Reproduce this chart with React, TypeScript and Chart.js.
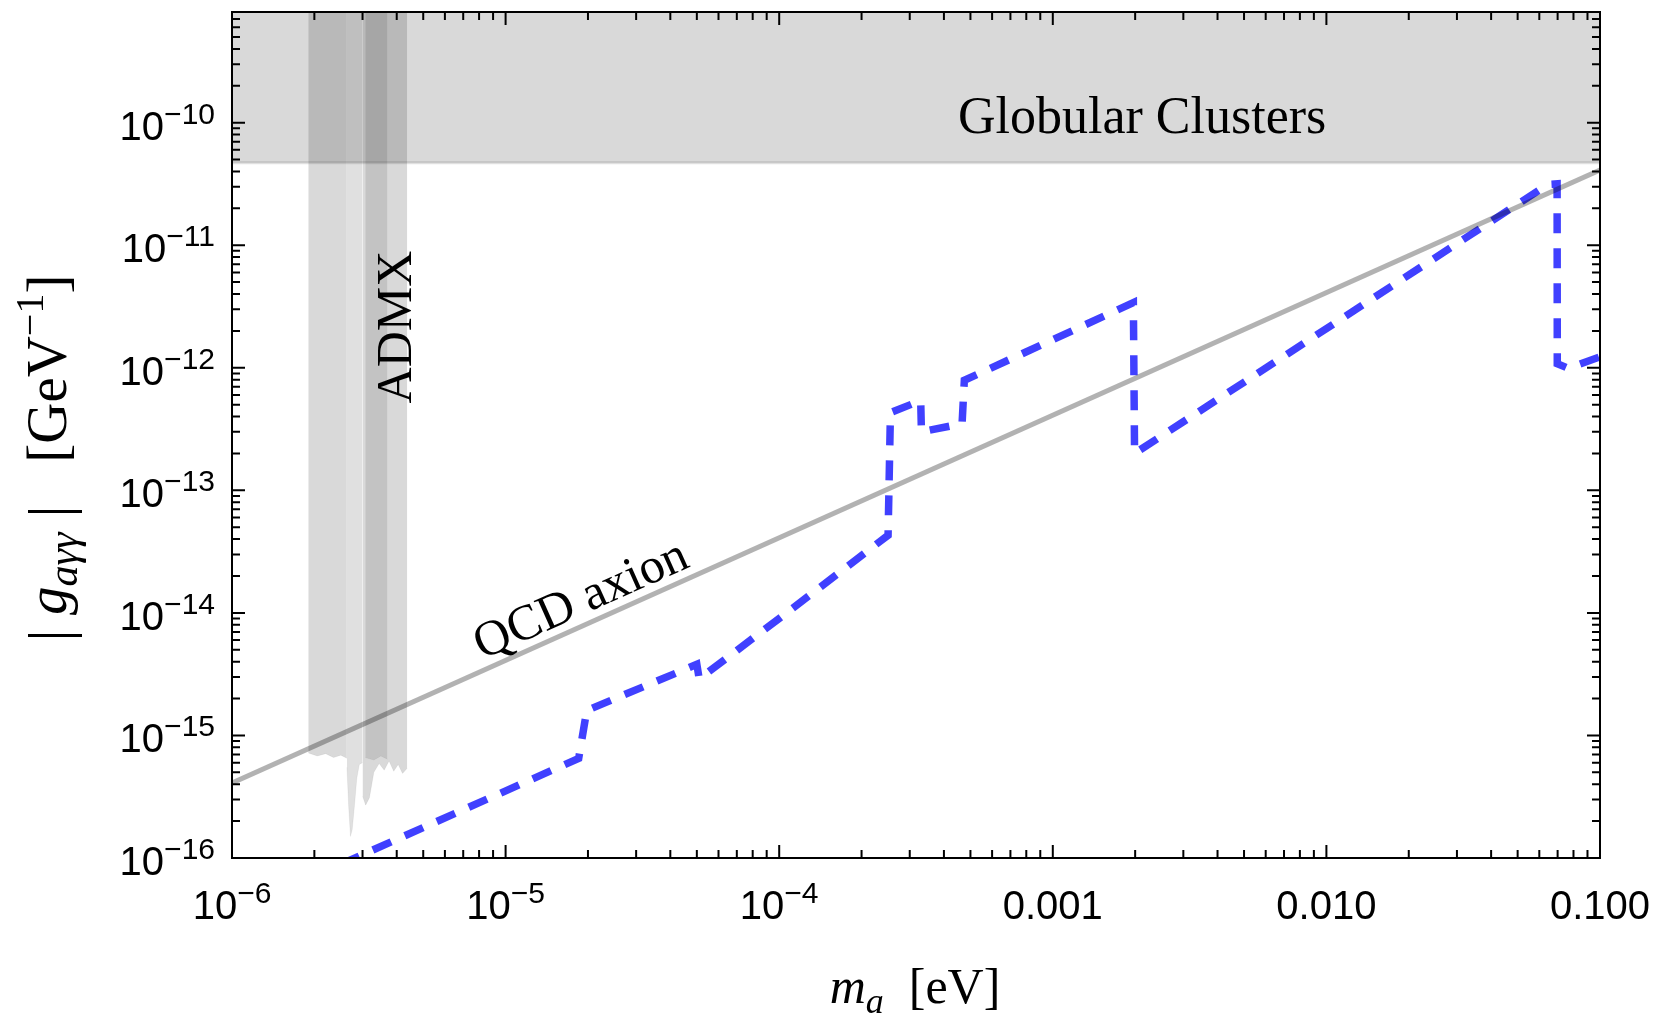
import { useEffect, useRef } from "react";
import { Chart, registerables } from "chart.js";

Chart.register(...registerables);

// ---------- axis ranges & ticks ----------
const X_MIN = 1e-6;
const X_MAX = 0.1;
const Y_MIN = 1e-16;
const Y_MAX = 8e-10;

const xTickValues = [1e-6, 1e-5, 1e-4, 1e-3, 1e-2, 1e-1];
const xTickBase = ["10", "10", "10", "0.001", "0.010", "0.100"];
const xTickExp = ["−6", "−5", "−4", "", "", ""];

const yTickValues = [1e-16, 1e-15, 1e-14, 1e-13, 1e-12, 1e-11, 1e-10];
const yTickBase = ["10", "10", "10", "10", "10", "10", "10"];
const yTickExp = ["−16", "−15", "−14", "−13", "−12", "−11", "−10"];

// ---------- data ----------
const qcdMass = [1e-6, 1e-1];
const qcdCoupling = [4.1e-16, 4.1e-11];

const gcMass = [1e-6, 1e-1];
const gcCoupling = [4.7e-11, 4.7e-11];

const admxAMass = [1.9e-6, 2.05e-6, 2.2e-6, 2.35e-6, 2.5e-6, 2.63e-6];
const admxACoupling = [7.2e-16, 6.8e-16, 7.1e-16, 6.6e-16, 6.9e-16, 6.5e-16];

const admxBMass = [2.63e-6, 2.67e-6, 2.71e-6, 2.75e-6, 2.8e-6, 2.86e-6, 2.92e-6, 3.0e-6];
const admxBCoupling = [5.5e-16, 2.6e-16, 1.5e-16, 1.7e-16, 2.6e-16, 4.5e-16, 5.8e-16, 6.0e-16];

const admxCMass = [3.0e-6, 3.08e-6, 3.18e-6, 3.3e-6, 3.45e-6, 3.6e-6, 3.75e-6, 3.9e-6, 4.05e-6, 4.2e-6, 4.37e-6];
const admxCCoupling = [3.2e-16, 2.7e-16, 3.1e-16, 5.0e-16, 5.9e-16, 5.2e-16, 6.2e-16, 5.1e-16, 5.8e-16, 4.9e-16, 5.4e-16];

const admxDMass = [3.07e-6, 3.3e-6, 3.5e-6, 3.7e-6];
const admxDCoupling = [6.6e-16, 6.3e-16, 6.8e-16, 6.4e-16];

const reachMass = [
  2.5e-6, 1.85e-5, 1.98e-5, 5.0e-5, 5.1e-5, 1.0e-4, 2.5e-4, 2.55e-4, 3.29e-4, 3.31e-4,
  4.66e-4, 4.75e-4, 1.97e-3, 1.99e-3, 0.0646, 0.0697, 0.0698, 0.0765, 0.1,
];
const reachCoupling = [
  8.9e-17, 6.5e-16, 1.6e-15, 3.8e-15, 2.9e-15, 9.0e-15, 4.3e-14, 4.3e-13, 5.4e-13, 3.0e-13,
  3.5e-13, 7.9e-13, 3.4e-12, 2.0e-13, 3.14e-11, 3.17e-11, 1.08e-12, 9.9e-13, 1.23e-12,
];

// label anchors
const qcdLabelMass = 2.05e-5;

const pts = (xs: number[], ys: number[]) => xs.map((x, i) => ({ x, y: ys[i] }));

const decorations = {
  id: "decorations",
  afterDraw(chart: any) {
    const ctx: CanvasRenderingContext2D = chart.ctx;
    const xs = chart.scales.x;
    const ys = chart.scales.y;
    const { left, right, top, bottom } = chart.chartArea;
    ctx.save();

    // frame
    ctx.strokeStyle = "#000";
    ctx.lineWidth = 2;
    ctx.strokeRect(left, top, right - left, bottom - top);

    // ticks
    ctx.lineWidth = 2;
    const major = 13;
    const minor = 8;
    ctx.beginPath();
    for (let e = -6; e <= -1; e++) {
      for (let k = 1; k <= 9; k++) {
        const v = k * Math.pow(10, e);
        if (v < X_MIN * 0.999 || v > X_MAX * 1.001) continue;
        const px = xs.getPixelForValue(v);
        const len = k === 1 ? major : minor;
        ctx.moveTo(px, bottom);
        ctx.lineTo(px, bottom - len);
        ctx.moveTo(px, top);
        ctx.lineTo(px, top + len);
      }
    }
    for (let e = -16; e <= -10; e++) {
      for (let k = 1; k <= 9; k++) {
        const v = k * Math.pow(10, e);
        if (v < Y_MIN * 0.999 || v >= Y_MAX * 0.999) continue;
        const py = ys.getPixelForValue(v);
        const len = k === 1 ? major : minor;
        ctx.moveTo(left, py);
        ctx.lineTo(left + len, py);
        ctx.moveTo(right, py);
        ctx.lineTo(right - len, py);
      }
    }
    ctx.stroke();

    // tick labels
    const mainFont = '40px "Liberation Sans", Arial, sans-serif';
    const supFont = '30px "Liberation Sans", Arial, sans-serif';
    ctx.fillStyle = "#000";
    ctx.textBaseline = "alphabetic";
    ctx.textAlign = "left";
    xTickValues.forEach((v, i) => {
      const px = xs.getPixelForValue(v);
      ctx.font = mainFont;
      const w1 = ctx.measureText(xTickBase[i]).width;
      ctx.font = supFont;
      const w2 = xTickExp[i] ? ctx.measureText(xTickExp[i]).width : 0;
      const x0 = px - (w1 + w2) / 2;
      const base = bottom + 61;
      ctx.font = mainFont;
      ctx.fillText(xTickBase[i], x0, base);
      if (xTickExp[i]) {
        ctx.font = supFont;
        ctx.fillText(xTickExp[i], x0 + w1, base - 16);
      }
    });
    yTickValues.forEach((v, i) => {
      const py = ys.getPixelForValue(v);
      ctx.font = mainFont;
      const w1 = ctx.measureText(yTickBase[i]).width;
      ctx.font = supFont;
      const w2 = ctx.measureText(yTickExp[i]).width;
      const x0 = left - 17 - (w1 + w2);
      const base = py + 17;
      ctx.font = mainFont;
      ctx.fillText(yTickBase[i], x0, base);
      ctx.font = supFont;
      ctx.fillText(yTickExp[i], x0 + w1, base - 16);
    });

    const serif = '"Liberation Serif", "Times New Roman", serif';

    // Globular Clusters
    ctx.font = `52px ${serif}`;
    ctx.fillText("Globular Clusters", 958, 133);

    // ADMX
    ctx.save();
    ctx.translate(411, 327);
    ctx.rotate(-Math.PI / 2);
    ctx.textAlign = "center";
    ctx.font = `50px ${serif}`;
    ctx.fillText("ADMX", 0, 0);
    ctx.restore();

    // QCD axion label along the line
    const p1x = xs.getPixelForValue(qcdMass[0]);
    const p1y = ys.getPixelForValue(qcdCoupling[0]);
    const p2x = xs.getPixelForValue(qcdMass[1]);
    const p2y = ys.getPixelForValue(qcdCoupling[1]);
    const ang = Math.atan2(p2y - p1y, p2x - p1x);
    const slope = Math.log10(qcdCoupling[1] / qcdCoupling[0]) / Math.log10(qcdMass[1] / qcdMass[0]);
    const gAt = qcdCoupling[0] * Math.pow(qcdLabelMass / qcdMass[0], slope);
    ctx.save();
    ctx.translate(xs.getPixelForValue(qcdLabelMass), ys.getPixelForValue(gAt));
    ctx.rotate(ang);
    ctx.textAlign = "center";
    ctx.font = `50px ${serif}`;
    ctx.fillText("QCD axion", 0, -10);
    ctx.restore();

    // x axis label: m_a [eV]
    ctx.textAlign = "left";
    const bigI = `italic 50px ${serif}`;
    const smallI = `italic 36px ${serif}`;
    const big = `50px ${serif}`;
    ctx.font = bigI;
    const wm = ctx.measureText("m").width;
    ctx.font = smallI;
    const wa = ctx.measureText("a").width;
    ctx.font = big;
    const wr = ctx.measureText("  [eV]").width;
    let xx = 915 - (wm + wa + wr) / 2;
    const yb = 1003;
    ctx.font = bigI;
    ctx.fillText("m", xx, yb);
    xx += wm;
    ctx.font = smallI;
    ctx.fillText("a", xx, yb + 10);
    xx += wa;
    ctx.font = big;
    ctx.fillText("  [eV]", xx, yb);

    // y axis label: |g_{aγγ}| [GeV^-1]
    ctx.save();
    ctx.translate(66, 458);
    ctx.rotate(-Math.PI / 2);
    const parts: [string, string, number][] = [
      ["|", `60px ${serif}`, 3],
      [" g", `italic 57px ${serif}`, 0],
      ["aγγ", `italic 42px ${serif}`, 11],
      [" |", `60px ${serif}`, 3],
      ["   [GeV", `57px ${serif}`, 0],
      ["−1", `40px ${serif}`, -23],
      ["]", `57px ${serif}`, 0],
    ];
    let total = 0;
    parts.forEach(([t, f]) => {
      ctx.font = f;
      total += ctx.measureText(t).width;
    });
    let lx = -total / 2;
    parts.forEach(([t, f, dy]) => {
      ctx.font = f;
      ctx.fillText(t, lx, dy);
      lx += ctx.measureText(t).width;
    });
    ctx.restore();

    ctx.restore();
  },
};

export default function App() {
  const ref = useRef<HTMLCanvasElement | null>(null);

  useEffect(() => {
    if (!ref.current) return;
    const bandStyle = {
      borderColor: "rgba(0,0,0,0.05)",
      borderWidth: 1,
      backgroundColor: "rgba(0,0,0,0.15)",
      fill: "end" as const,
      pointRadius: 0,
    };
    const chart = new Chart(ref.current, {
      type: "line",
      data: {
        datasets: [
          {
            label: "QCD axion",
            data: pts(qcdMass, qcdCoupling),
            borderColor: "rgba(0,0,0,0.3)",
            borderWidth: 5,
            pointRadius: 0,
            fill: false,
            order: 0,
          },
          {
            label: "Reach",
            data: pts(reachMass, reachCoupling),
            borderColor: "rgba(0,0,255,0.75)",
            borderWidth: 7.5,
            borderDash: [20, 15],
            borderCapStyle: "butt",
            pointRadius: 0,
            fill: false,
            order: 1,
          },
          {
            label: "ADMX A",
            data: pts(admxAMass, admxACoupling),
            ...bandStyle,
            order: 3,
          },
          {
            label: "ADMX B",
            data: pts(admxBMass, admxBCoupling),
            ...bandStyle,
            backgroundColor: "rgba(0,0,0,0.12)",
            order: 3,
          },
          {
            label: "ADMX C",
            data: pts(admxCMass, admxCCoupling),
            ...bandStyle,
            order: 3,
          },
          {
            label: "ADMX D",
            data: pts(admxDMass, admxDCoupling),
            ...bandStyle,
            backgroundColor: "rgba(0,0,0,0.1)",
            order: 3,
          },
          {
            label: "Globular Clusters",
            data: pts(gcMass, gcCoupling),
            borderColor: "rgba(0,0,0,0.12)",
            borderWidth: 3,
            backgroundColor: "rgba(0,0,0,0.15)",
            fill: "end",
            pointRadius: 0,
            order: 5,
          },
        ],
      },
      options: {
        animation: false,
        responsive: false,
        devicePixelRatio: 1,
        layout: { padding: { left: 232, top: 12, right: 59, bottom: 160 } },
        scales: {
          x: { type: "logarithmic", min: X_MIN, max: X_MAX, display: false },
          y: { type: "logarithmic", min: Y_MIN, max: Y_MAX, display: false },
        },
        plugins: { legend: { display: false }, tooltip: { enabled: false } },
        elements: { line: { tension: 0 } },
      },
      plugins: [decorations],
    } as any);
    return () => chart.destroy();
  }, []);

  return (
    <div style={{ position: "absolute", left: 0, top: 0, width: 1659, height: 1018, background: "#fff" }}>
      <canvas ref={ref} width={1659} height={1018} style={{ width: 1659, height: 1018, display: "block" }} />
    </div>
  );
}
